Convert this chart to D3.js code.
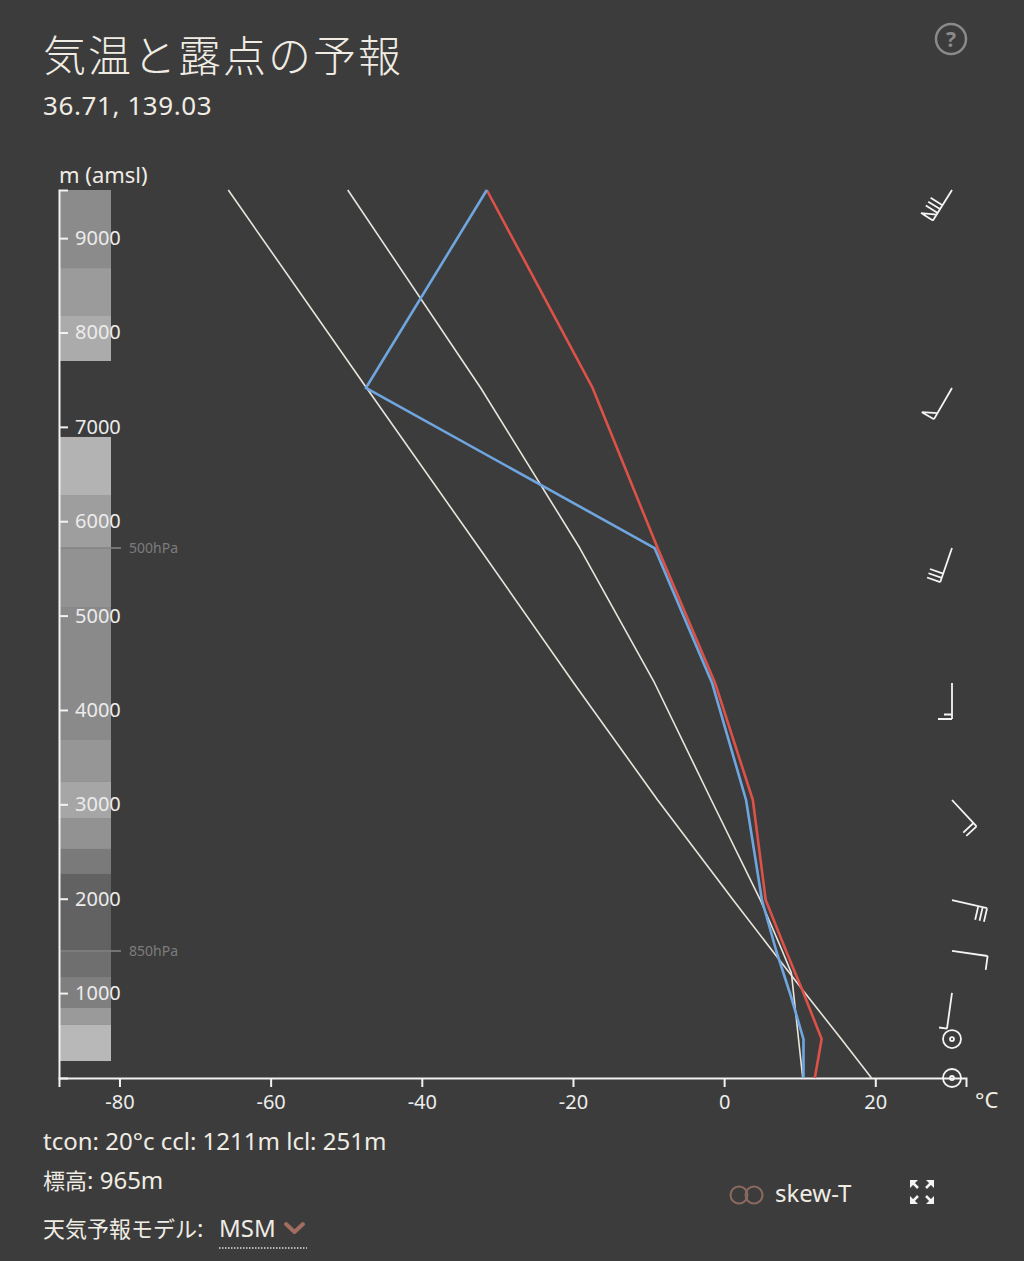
<!DOCTYPE html>
<html><head><meta charset="utf-8">
<script src="https://cdn.jsdelivr.net/npm/d3@7"></script>
<style>
html,body{margin:0;padding:0;background:#3c3c3c;}
svg{display:block;}
text{font-family:"Noto Sans","Noto Sans CJK JP",sans-serif;}
.cjk{font-family:"Noto Sans CJK JP",sans-serif;font-size:22px;}
</style></head><body>
<svg id="chart" width="1024" height="1261"></svg>
<script>
// ---- data ----
const levelHeights = [100, 513, 1001, 1446, 1986, 3046, 4286, 5716, 7412, 9510];
const temperature  = [12.0, 12.9, 10.5, 8.2, 5.5, 3.8, -1.2, -8.8, -17.4, -31.4];
const dewpoint     = [10.5, 10.5, 8.7, 6.9, 5.0, 2.9, -1.6, -9.2, -47.4, -31.4];
const dryAdiabat   = [19.5, 15.5, 10.7, 6.4, 1.2, -8.8, -19.9, -32.4, -47.3, -65.6];
const parcelHeights = [100, 1211, 1446, 1986, 3046, 4286, 5716, 7412, 9510];
const parcelTemps   = [10.4, 8.9, 7.7, 4.8, -1.7, -9.2, -19.1, -32.2, -49.8];
const windDir   = [null, null, 188, 98, 103, 137, 180, 199, 210, 212];
const windSpeed = [0, 0, 5, 10, 30, 20, 15, 30, 50, 80];
const pressureLabels  = ["850hPa", "500hPa"];
const pressureHeights = [1446, 5716];
const cloudBottom = [8683, 8175, 7698, 6278, 5716, 5091, 3682, 3237, 2855, 2527, 2262, 1435, 1170, 842, 662, 280];
const cloudTop    = [9510, 8683, 8175, 6893, 6278, 5716, 5091, 3682, 3237, 2855, 2527, 2262, 1435, 1170, 842, 662];
const cloudCover  = [0.60, 0.72, 0.84, 0.90, 0.74, 0.65, 0.59, 0.68, 0.80, 0.65, 0.47, 0.29, 0.39, 0.51, 0.71, 0.94];
const xTicks = [-80, -60, -40, -20, 0, 20];
const yTicks = [1000, 2000, 3000, 4000, 5000, 6000, 7000, 8000, 9000];
const title = "気温と露点の予報";
const subtitle = "36.71, 139.03";
const infoLine = "tcon: 20°c ccl: 1211m lcl: 251m";
const elevLabel = "標高";
const elevValue = ": 965m";
const modelLabel = "天気予報モデル";
const modelName = "MSM";

// ---- drawing ----
const svg = d3.select("#chart");
const x = d3.scaleLinear().domain([-88, 32]).range([59, 966]);
const y = d3.scaleLinear().domain([100, 9510]).range([1078, 190]);
const grey = d3.scaleLinear().domain([0, 1]).range(["#3c3c3c", "#c0c0c0"]);
const txt = "#f0ece4";

svg.append("text").attr("x", 43).attr("y", 72).attr("fill", txt)
  .style("font-family", '"Noto Sans CJK JP"').style("font-size", "43px").style("font-weight", 300)
  .style("letter-spacing", "2px").text(title);
svg.append("text").attr("x", 43).attr("y", 115).attr("fill", txt)
  .style("font-size", "26px").style("letter-spacing", "0.6px").text(subtitle);

// help icon
svg.append("circle").attr("cx", 951).attr("cy", 39).attr("r", 15)
  .attr("fill", "none").attr("stroke", "#8a8a8a").attr("stroke-width", 2.5);
svg.append("text").attr("x", 951).attr("y", 47).attr("text-anchor", "middle").attr("fill", "#8a8a8a")
  .style("font-size", "21px").style("font-weight", "bold").text("?");

// cloud bar
svg.append("g").selectAll("rect").data(cloudCover).join("rect")
  .attr("x", 60).attr("width", 51)
  .attr("y", (d, i) => y(cloudTop[i]))
  .attr("height", (d, i) => y(cloudBottom[i]) - y(cloudTop[i]))
  .attr("fill", d => grey(d));

// pressure markers
const pg = svg.append("g");
pressureHeights.forEach((h, i) => {
  pg.append("line").attr("x1", 59).attr("x2", 121).attr("y1", y(h)).attr("y2", y(h))
    .attr("stroke", "#858585").attr("stroke-width", 1.5);
  pg.append("text").attr("x", 129).attr("y", y(h)).attr("dy", "0.35em").attr("fill", "#7c7c7c")
    .style("font-size", "14px").text(pressureLabels[i]);
});

// axes
const fmt = d => String(d);
const yAxis = svg.append("g").attr("transform", "translate(59,0)")
  .call(d3.axisRight(y).tickValues(yTicks).tickSize(9).tickPadding(7).tickFormat(fmt));
const xAxis = svg.append("g").attr("transform", "translate(0,1078)")
  .call(d3.axisBottom(x).tickValues(xTicks).tickSize(9).tickPadding(8).tickFormat(fmt));
[yAxis, xAxis].forEach(a => {
  a.selectAll("path, line").attr("stroke", "#f2f2f2").attr("stroke-width", 2);
  a.selectAll("text").attr("fill", "#ececec").style("font-size", "20px")
    .style("font-family", '"Noto Sans",sans-serif');
});
svg.append("text").attr("x", 59).attr("y", 183).attr("fill", txt).style("font-size", "22px").text("m (amsl)");
svg.append("text").attr("x", 975).attr("y", 1108).attr("fill", txt).style("font-size", "22px").text("°C");

// lines
const line = d3.line().x(d => x(d[1])).y(d => y(d[0]));
const zipL = (hs, ts) => hs.map((h, i) => [h, ts[i]]);
const lg = svg.append("g").attr("fill", "none").attr("stroke-linejoin", "round");
lg.append("path").attr("d", line(zipL(levelHeights, dryAdiabat))).attr("stroke", "#e9e5dc").attr("stroke-width", 1.6);
lg.append("path").attr("d", line(zipL(parcelHeights, parcelTemps))).attr("stroke", "#e9e5dc").attr("stroke-width", 1.6);
lg.append("path").attr("d", line(zipL(levelHeights, temperature))).attr("stroke", "#dc5248").attr("stroke-width", 2.6);
lg.append("path").attr("d", line(zipL(levelHeights, dewpoint))).attr("stroke", "#6fa6df").attr("stroke-width", 2.6);

// wind barbs
const bg = svg.append("g").attr("stroke", "#f4f4f4").attr("stroke-width", 1.8).attr("fill", "none");
const bx = 952;
levelHeights.forEach((h, i) => {
  const cy = y(h), spd = windSpeed[i];
  if (!spd) {
    bg.append("circle").attr("cx", bx).attr("cy", cy).attr("r", 9);
    bg.append("circle").attr("cx", bx).attr("cy", cy).attr("r", 2);
    return;
  }
  const L = 36, rad = windDir[i] * Math.PI / 180;
  const ux = Math.sin(rad), uy = -Math.cos(rad);
  const px = -uy, py = ux;
  const at = d => [bx + ux * d, cy + uy * d];
  const p = d3.path();
  p.moveTo(bx, cy); const t = at(L); p.lineTo(t[0], t[1]);
  let s = Math.round(spd / 5) * 5, pos = L;
  const pen = Math.floor(s / 50); s -= pen * 50;
  const full = Math.floor(s / 10); s -= full * 10;
  const half = s >= 5;
  for (let k = 0; k < pen; k++) {
    const a = at(pos), b = at(pos - 7);
    p.moveTo(a[0], a[1]); p.lineTo(a[0] + px * 14, a[1] + py * 14); p.lineTo(b[0], b[1]);
    pos -= 9;
  }
  for (let k = 0; k < full; k++) {
    const a = at(pos);
    p.moveTo(a[0], a[1]); p.lineTo(a[0] + px * 14, a[1] + py * 14);
    pos -= 4.5;
  }
  if (half) {
    const a = at(pos);
    p.moveTo(a[0], a[1]); p.lineTo(a[0] + px * 8, a[1] + py * 8);
  }
  bg.append("path").attr("d", p.toString());
});

// footer texts
svg.append("text").attr("x", 43).attr("y", 1150).attr("fill", txt).style("font-size", "24px").text(infoLine);
const t2 = svg.append("text").attr("x", 43).attr("y", 1189).attr("fill", txt).style("font-size", "24px");
t2.append("tspan").attr("class", "cjk").text(elevLabel);
t2.append("tspan").text(elevValue);
const t3 = svg.append("text").attr("x", 43).attr("y", 1237).attr("fill", txt).style("font-size", "24px");
t3.append("tspan").attr("class", "cjk").text(modelLabel);
t3.append("tspan").text(":");
svg.append("text").attr("x", 219).attr("y", 1237).attr("fill", txt).style("font-size", "24px").text(modelName);
svg.append("line").attr("x1", 219).attr("x2", 307).attr("y1", 1248).attr("y2", 1248)
  .attr("stroke", "#dddddd").attr("stroke-width", 1.5).attr("stroke-dasharray", "1.5,1.5");
svg.append("path").attr("d", "M286,1224L294.5,1232L303,1224").attr("fill", "none")
  .attr("stroke", "#a06d5f").attr("stroke-width", 4).attr("stroke-linecap", "round").attr("stroke-linejoin", "round");

// toggle + skew-T
svg.append("circle").attr("cx", 739).attr("cy", 1195).attr("r", 8.5).attr("fill", "none").attr("stroke", "#8c6a60").attr("stroke-width", 2);
svg.append("circle").attr("cx", 754).attr("cy", 1195).attr("r", 8.5).attr("fill", "none").attr("stroke", "#8c6a60").attr("stroke-width", 2);
svg.append("text").attr("x", 775).attr("y", 1202).attr("fill", txt).style("font-size", "24px").text("skew-T");

// expand icon
const eg = svg.append("g");
const ecx = 922, ecy = 1192;
[[-1, -1], [1, -1], [-1, 1], [1, 1]].forEach(([sx, sy]) => {
  const P = [ecx + sx * 12, ecy + sy * 12];
  eg.append("path").attr("d", `M${P[0]},${P[1]}L${P[0] - sx * 8},${P[1]}L${P[0]},${P[1] - sy * 8}Z`).attr("fill", "#f2f2f2");
  eg.append("line").attr("x1", P[0] - sx * 3).attr("y1", P[1] - sy * 3).attr("x2", ecx + sx * 4).attr("y2", ecy + sy * 4)
    .attr("stroke", "#f2f2f2").attr("stroke-width", 2.5);
});
</script>
</body></html>
